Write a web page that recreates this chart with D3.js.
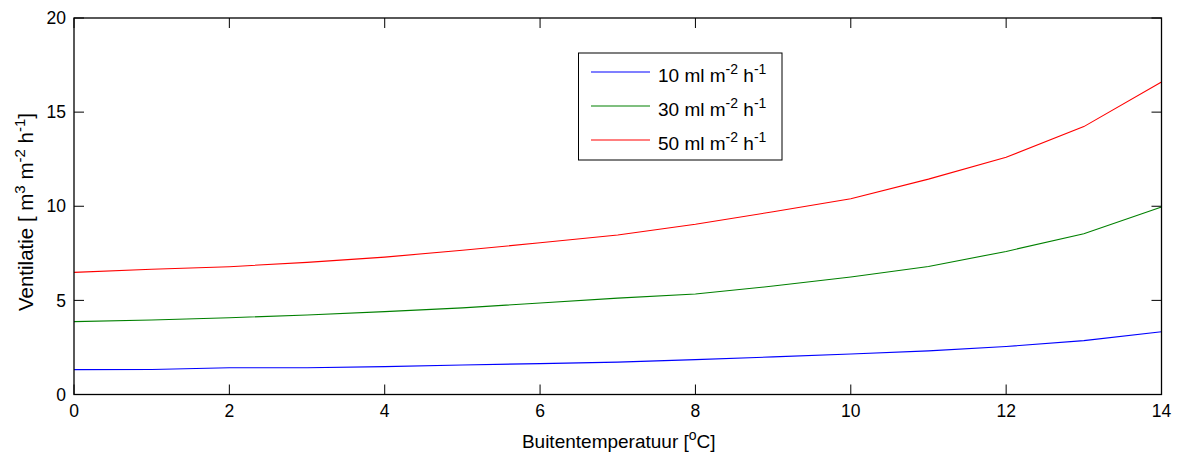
<!DOCTYPE html>
<html>
<head>
<meta charset="utf-8">
<script src="https://cdn.jsdelivr.net/npm/d3@7"></script>
<style>
  html, body { margin: 0; padding: 0; background: #fff; }
  svg { display: block; font-family: "Liberation Sans", Arial, sans-serif; }
</style>
</head>
<body>
<svg id="chart" width="1178" height="454"></svg>
<script>
// Outside temperature (°C)
const temperature = [0, 1, 2, 3, 4, 5, 6, 7, 8, 9, 10, 11, 12, 13, 14];
// Required ventilation rate (m3 m-2 h-1) per moisture production level
const vent10 = [1.32, 1.33, 1.42, 1.42, 1.48, 1.57, 1.64, 1.72, 1.85, 2.0, 2.15, 2.32, 2.55, 2.86, 3.33];
const vent30 = [3.87, 3.96, 4.08, 4.22, 4.4, 4.6, 4.86, 5.12, 5.34, 5.76, 6.24, 6.8, 7.6, 8.54, 9.96];
const vent50 = [6.49, 6.65, 6.79, 7.02, 7.3, 7.66, 8.06, 8.47, 9.04, 9.71, 10.4, 11.44, 12.6, 14.23, 16.6];
const seriesNames = ["10", "30", "50"];
const seriesColors = ["#0000ff", "#008000", "#ff0000"];
const xTicks = [0, 2, 4, 6, 8, 10, 12, 14];
const yTicks = [0, 5, 10, 15, 20];

const svg = d3.select("#chart");
const plotL = 74, plotR = 1161.5, plotT = 18, plotB = 394.5;

const x = d3.scaleLinear().domain([0, 14]).range([plotL, plotR]);
const y = d3.scaleLinear().domain([0, 20]).range([plotB, plotT]);

const tickLen = 10;
const tickFont = 17.5;
const labelFont = 19;
const supFont = 14;

// Tick marks on all four sides (pointing inward)
const g = svg.append("g");
xTicks.forEach(t => {
  g.append("line").attr("x1", x(t)).attr("x2", x(t)).attr("y1", plotB).attr("y2", plotB - tickLen)
    .attr("stroke", "#000").attr("stroke-width", 1);
  g.append("line").attr("x1", x(t)).attr("x2", x(t)).attr("y1", plotT).attr("y2", plotT + tickLen)
    .attr("stroke", "#000").attr("stroke-width", 1);
  g.append("text").attr("x", x(t)).attr("y", plotB + 22.5).attr("text-anchor", "middle")
    .attr("font-size", tickFont).attr("fill", "#000").text(t);
});
yTicks.forEach(t => {
  g.append("line").attr("x1", plotL).attr("x2", plotL + tickLen).attr("y1", y(t)).attr("y2", y(t))
    .attr("stroke", "#000").attr("stroke-width", 1);
  g.append("line").attr("x1", plotR).attr("x2", plotR - tickLen).attr("y1", y(t)).attr("y2", y(t))
    .attr("stroke", "#000").attr("stroke-width", 1);
  g.append("text").attr("x", plotL - 8).attr("y", y(t) + 6.2).attr("text-anchor", "end")
    .attr("font-size", tickFont).attr("fill", "#000").text(t);
});

// Series lines
const line = d3.line().x((d, i) => x(temperature[i])).y(d => y(d));
[vent10, vent30, vent50].forEach((vals, i) => {
  svg.append("path").datum(vals).attr("d", line)
    .attr("fill", "none").attr("stroke", seriesColors[i]).attr("stroke-width", 1.1);
});

// Plot frame
svg.append("rect").attr("x", plotL).attr("y", plotT).attr("width", plotR - plotL).attr("height", plotB - plotT)
  .attr("fill", "none").attr("stroke", "#000").attr("stroke-width", 1.3);

// Writes "base^sup" runs into a text element
function richText(sel, parts, supSize, shift) {
  parts.forEach(p => {
    if (p.sup) sel.append("tspan").attr("dy", -shift).attr("font-size", supSize).text(p.sup);
    else sel.append("tspan").attr("dy", p.after ? shift : 0).text(p.t);
  });
}

// Legend
const lg = svg.append("g");
lg.append("rect").attr("x", 578.5).attr("y", 53).attr("width", 203.5).attr("height", 107)
  .attr("fill", "#fff").attr("stroke", "#000").attr("stroke-width", 1);
seriesNames.forEach((name, i) => {
  const cy = 72 + i * 34;
  lg.append("line").attr("x1", 591).attr("x2", 650).attr("y1", cy).attr("y2", cy)
    .attr("stroke", seriesColors[i]).attr("stroke-width", 1.1);
  const t = lg.append("text").attr("x", 658).attr("y", cy + 10).attr("font-size", labelFont).attr("fill", "#000");
  richText(t, [{ t: name + " ml m" }, { sup: "-2" }, { t: " h", after: true }, { sup: "-1" }], supFont, 8);
});

// Axis titles
const xl = svg.append("text").attr("x", (plotL + plotR) / 2 + 1).attr("y", 448).attr("text-anchor", "middle")
  .attr("font-size", labelFont).attr("fill", "#000");
richText(xl, [{ t: "Buitentemperatuur [" }, { sup: "o" }, { t: "C]", after: true }], supFont, 8);

const yl = svg.append("text").attr("transform", "translate(33,212) rotate(-90)")
  .attr("text-anchor", "middle").attr("font-size", 20.5).attr("fill", "#000");
richText(yl, [{ t: "Ventilatie [ m" }, { sup: "3" }, { t: " m", after: true }, { sup: "-2" },
  { t: " h", after: true }, { sup: "-1" }, { t: "]", after: true }], 15, 8.5);
</script>
</body>
</html>
